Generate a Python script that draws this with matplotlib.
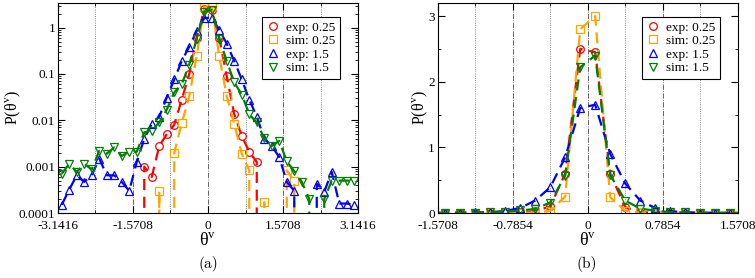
import numpy as np
from matplotlib import pyplot as plt
from matplotlib.lines import Line2D
from matplotlib.ticker import FixedLocator, LogLocator, NullFormatter, MultipleLocator

plt.rcParams.update({'font.family': 'Liberation Serif'})
plt.rcParams.update({'mathtext.fontset': 'custom'})
plt.rcParams.update({'mathtext.rm': 'Liberation Serif'})
plt.rcParams.update({'font.size': 9})

# 40 bins of width pi/20 over [-pi, pi]
theta = (np.arange(40) - 19.5) * np.pi / 20

exp_025 = [0, 0, 0, 0, 0, 0, 0, 0, 0, 0,
           0, 1.0e-3, 6.0e-4, 2.8e-3, 5.0e-3, 8.0e-3, 0.028, 0.1, 0.6, 2.5,
           2.45, 0.6, 0.089, 0.0135, 4.6e-3, 2.1e-3, 1.25e-3, 0, 0, 0,
           0, 0, 0, 0, 0, 0, 0, 0, 0, 0]
sim_025 = [0, 0, 0, 0, 0, 0, 0, 0, 0, 0,
           0, 0, 0, 3.0e-4, 0, 2.0e-3, 8.7e-3, 0.033, 0.25, 2.8,
           3.0, 0.24, 0.033, 8.3e-3, 1.9e-3, 8.3e-4, 0, 1.7e-4, 0, 0,
           8.3e-4, 5.0e-4, 0, 0, 0, 0, 0, 0, 0, 0]
exp_15 = [1.5e-4, 3.2e-4, 6.5e-4, 4.7e-4, 6.5e-4, 1.5e-3, 6.5e-4, 6.5e-4, 4.7e-4, 3.0e-4,
          1.26e-3, 4.0e-3, 8.3e-3, 0.012, 0.031, 0.076, 0.19, 0.39, 0.85, 1.6,
          1.65, 0.9, 0.45, 0.19, 0.076, 0.028, 0.012, 4.0e-3, 2.8e-3, 1.6e-3,
          4.7e-4, 3.0e-4, 0, 0, 4.3e-4, 2.9e-4, 7.7e-4, 1.6e-4, 1.6e-4, 1.5e-4]
sim_15 = [7.0e-4, 1.15e-3, 7.7e-4, 1.15e-3, 8.7e-4, 2.2e-3, 1.9e-3, 2.6e-3, 1.7e-3, 2.1e-3,
          2.1e-3, 5.5e-3, 6.0e-3, 9.0e-3, 0.017, 0.04, 0.06, 0.16, 0.57, 2.22,
          2.4, 0.58, 0.19, 0.066, 0.036, 0.0135, 9.0e-3, 4.1e-3, 2.8e-3, 3.6e-3,
          1.3e-3, 8.0e-4, 4.7e-4, 2.0e-4, 0, 2.0e-4, 5.0e-4, 5.0e-4, 5.0e-4, 5.0e-4]

series = [(exp_025, 'exp: 0.25', 'red', 'o'),
          (sim_025, 'sim: 0.25', 'orange', 's'),
          (exp_15, 'exp: 1.5', 'blue', '^'),
          (sim_15, 'sim: 1.5', 'green', 'v')]

fig = plt.figure(figsize=(7.55, 2.78), dpi=100)
ax1 = fig.add_axes([0.0768, 0.2338, 0.3974, 0.7554])
ax2 = fig.add_axes([0.5797, 0.2338, 0.3974, 0.7554])

for vals, lab, col, mk in series:
    for ax in (ax1, ax2):
        ax.plot(theta, vals, color=col, ls=(0, (5, 3)), lw=1.6, marker=mk, ms=5.5,
                mfc='none', mec=col, mew=0.9)

# panel (a): log scale
ax1.set_yscale('log')
ax1.set_xlim(-np.pi, np.pi)
ax1.set_ylim(1e-4, 3.4)
ax1.set_xticks([-np.pi, -np.pi / 2, 0, np.pi / 2, np.pi])
ax1.set_xticklabels(['-3.1416', '-1.5708', '0', '1.5708', '3.1416'])
ax1.xaxis.set_minor_locator(FixedLocator([-3 * np.pi / 4, -np.pi / 4, np.pi / 4, 3 * np.pi / 4]))
ax1.set_yticks([1e-4, 1e-3, 1e-2, 1e-1, 1])
ax1.set_yticklabels(['0.0001', '0.001', '0.01', '0.1', '1'])
ax1.yaxis.set_minor_locator(LogLocator(base=10, subs=np.arange(2, 10), numticks=20))
ax1.yaxis.set_minor_formatter(NullFormatter())
for xv in [-np.pi / 2, 0, np.pi / 2]:
    ax1.axvline(xv, color='0.3', lw=0.6, ls='-.', zorder=0)
for xv in [-3 * np.pi / 4, -np.pi / 4, np.pi / 4, 3 * np.pi / 4]:
    ax1.axvline(xv, color='0.4', lw=0.6, ls=':', zorder=0)

# panel (b): linear scale
ax2.set_xlim(-np.pi / 2, np.pi / 2)
ax2.set_ylim(0, 3.2)
ax2.set_xticks([-np.pi / 2, -np.pi / 4, 0, np.pi / 4, np.pi / 2])
ax2.set_xticklabels(['-1.5708', '-0.7854', '0', '0.7854', '1.5708'])
ax2.xaxis.set_minor_locator(FixedLocator([-3 * np.pi / 8, -np.pi / 8, np.pi / 8, 3 * np.pi / 8]))
ax2.set_yticks([0, 1, 2, 3])
ax2.yaxis.set_minor_locator(MultipleLocator(0.5))
for xv in [-np.pi / 4, 0, np.pi / 4]:
    ax2.axvline(xv, color='0.3', lw=0.6, ls='-.', zorder=0)
for xv in [-3 * np.pi / 8, -np.pi / 8, np.pi / 8, 3 * np.pi / 8]:
    ax2.axvline(xv, color='0.4', lw=0.6, ls=':', zorder=0)

for ax, ylx in ((ax1, -0.115), (ax2, -0.025)):
    ax.tick_params(which='both', direction='in', top=True, right=True, labelsize=9.5, pad=2)
    ax.tick_params(axis='x', which='major', pad=5)
    ax.tick_params(which='major', length=5)
    ax.tick_params(which='minor', length=2.5)
    ax.set_xlabel(r'θ$^\mathrm{v}$', fontsize=13, labelpad=0.5)
    ax.set_ylabel(r'P(θ$^\mathrm{v}$)', fontsize=11.5)
    ax.yaxis.set_label_coords(ylx, 0.5)
    for sp in ax.spines.values():
        sp.set_linewidth(0.8)
    handles = [Line2D([], [], ls='none', marker=mk, ms=5.5, mfc='none', mec=col, mew=0.9)
               for _, _, col, mk in series]
    ax.legend(handles, [s[1] for s in series], loc='upper left', bbox_to_anchor=(0.68, 0.935),
              fontsize=9.5, frameon=True, fancybox=False, edgecolor='black', framealpha=1,
              handlelength=1.0, handletextpad=0.5, borderpad=0.35, labelspacing=0.1,
              borderaxespad=0)
    ax.get_legend().get_frame().set_linewidth(0.8)

fig.text(0.2755, 0.035, '(a)', fontfamily='cmr10', fontsize=11, ha='center')
fig.text(0.7776, 0.035, '(b)', fontfamily='cmr10', fontsize=11, ha='center')

plt.savefig('out.png', dpi=100)
